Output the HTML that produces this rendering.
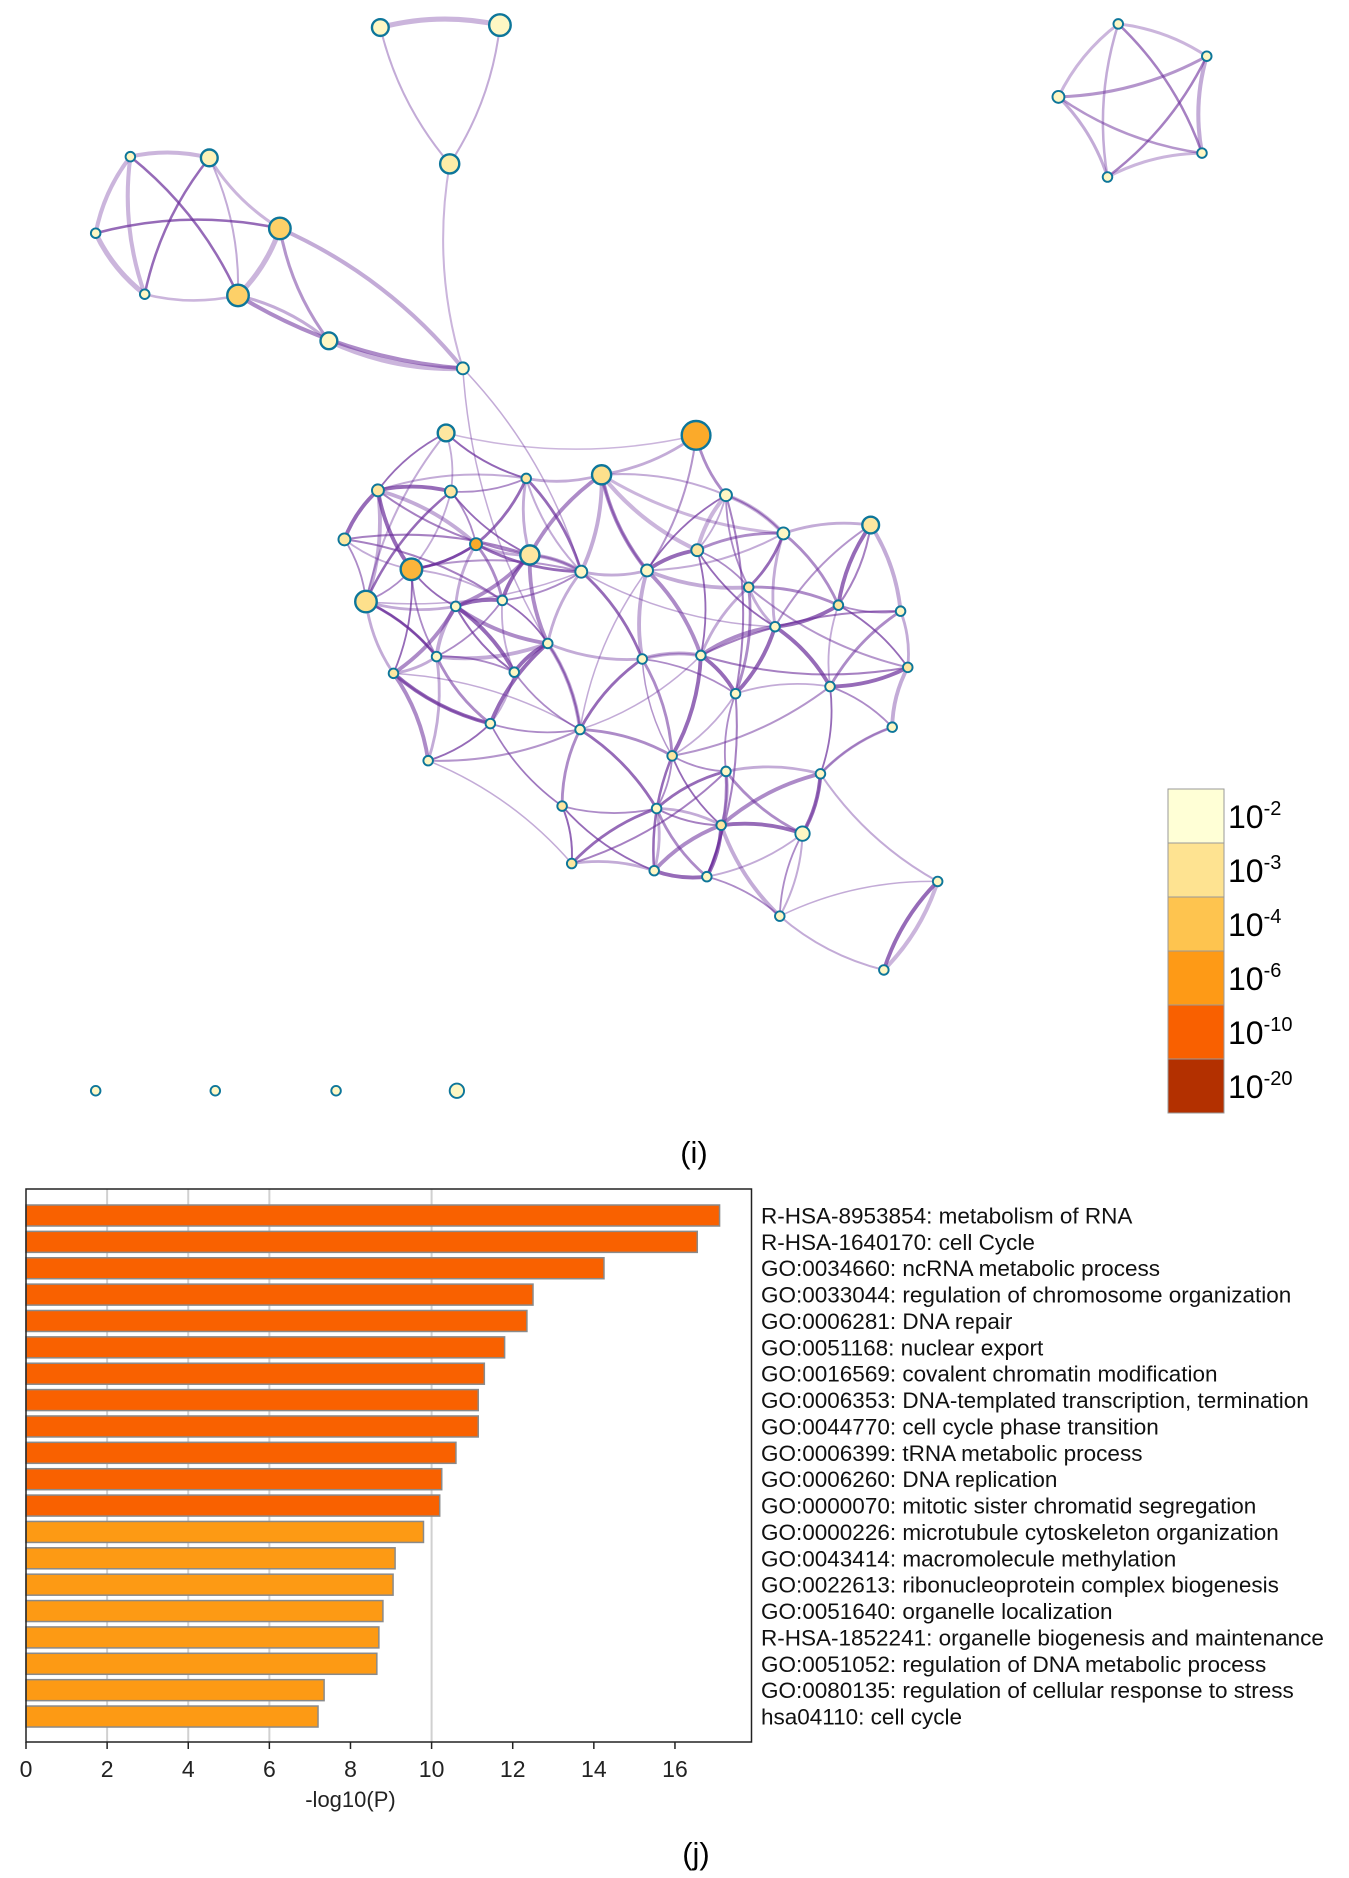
<!DOCTYPE html>
<html><head><meta charset="utf-8">
<style>
html,body{margin:0;padding:0;background:#fff;}
svg{display:block;}
text{font-family:"Liberation Sans",sans-serif;}
</style></head>
<body>
<svg id="fig" width="1349" height="1878" viewBox="0 0 1349 1878" xmlns="http://www.w3.org/2000/svg">
  <g id="net" transform="scale(1.196)">
    <g id="edges"></g>
    <g id="nodes"></g>
  </g>
  <g id="legend"></g>
  <text x="694" y="1163" font-family="Liberation Serif,serif" font-size="31" text-anchor="middle">(i)</text>
  <g id="bars"></g>
  <text x="696" y="1864" font-family="Liberation Serif,serif" font-size="31" text-anchor="middle">(j)</text>
</svg>
<script>
const NS="http://www.w3.org/2000/svg";
// ---- bar chart data ----
const categories=["R-HSA-8953854: metabolism of RNA","R-HSA-1640170: cell Cycle","GO:0034660: ncRNA metabolic process","GO:0033044: regulation of chromosome organization","GO:0006281: DNA repair","GO:0051168: nuclear export","GO:0016569: covalent chromatin modification","GO:0006353: DNA-templated transcription, termination","GO:0044770: cell cycle phase transition","GO:0006399: tRNA metabolic process","GO:0006260: DNA replication","GO:0000070: mitotic sister chromatid segregation","GO:0000226: microtubule cytoskeleton organization","GO:0043414: macromolecule methylation","GO:0022613: ribonucleoprotein complex biogenesis","GO:0051640: organelle localization","R-HSA-1852241: organelle biogenesis and maintenance","GO:0051052: regulation of DNA metabolic process","GO:0080135: regulation of cellular response to stress","hsa04110: cell cycle"];
const logP=[17.1,16.55,14.25,12.5,12.35,11.8,11.3,11.15,11.15,10.6,10.25,10.2,9.8,9.1,9.05,8.8,8.7,8.65,7.35,7.2];
const xTicks=[0,2,4,6,8,10,12,14,16];
const gridTicks=[2,4,6,10];
const legendLabels=[["10","-2"],["10","-3"],["10","-4"],["10","-6"],["10","-10"],["10","-20"]];
const legendColors=["#ffffd6","#fee391","#fec44f","#fe9a16","#f96000","#b33000"];

function el(tag,attrs,parent){const e=document.createElementNS(NS,tag);for(const k in attrs)e.setAttribute(k,attrs[k]);parent.appendChild(e);return e;}

const X0=26,XU=40.56,PT=1189,PB=1742,PR=751.5,B0=1205,BP=26.37,BH=21;
const xs=v=>X0+v*XU;
const ys=i=>B0+i*BP;
const bars=document.getElementById('bars');
el('rect',{x:X0,y:PT,width:PR-X0,height:PB-PT,fill:'#fff',stroke:'none'},bars);
gridTicks.forEach(t=>{const g=el('line',{x1:xs(t),x2:xs(t),y1:PT,y2:PB,stroke:'#d0d0d0','stroke-width':2},bars);

});
logP.forEach((v,i)=>{
  const r=el('rect',{x:X0,y:ys(i),width:xs(v)-X0,height:BH,fill:i<12?'#f96100':'#fd9a14',stroke:'#8a8a8a','stroke-width':1.5},bars);
  
  
  const t=el('text',{x:761,y:ys(i)+BH/2+8,'font-size':22.5,fill:'#111'},bars);
  t.textContent=categories[i];
  
  
});
const bd=el('rect',{x:X0,y:PT,width:PR-X0,height:PB-PT,fill:'none',stroke:'#222','stroke-width':1.5},bars);


xTicks.forEach(t=>{
  el('line',{x1:xs(t),x2:xs(t),y1:PB,y2:PB+7,stroke:'#222','stroke-width':1.5},bars);
  const tl=el('text',{x:xs(t),y:1777,'font-size':23,'text-anchor':'middle',fill:'#222'},bars);
  tl.textContent=t;
  
  
});
const xl=el('text',{x:xs(8),y:1807,'font-size':22,'text-anchor':'middle',fill:'#222'},bars);
xl.textContent='-log10(P)';



// ---- legend ----
const lg=document.getElementById('legend');
legendColors.forEach((c,i)=>{
  const r=el('rect',{x:1168,y:789+i*54,width:56,height:54,fill:c,stroke:'#999','stroke-width':1},lg);
  
  
  const t=el('text',{x:1228,y:789+i*54+39,'font-size':32,fill:'#000'},lg);
  
  
  t.appendChild(document.createTextNode(legendLabels[i][0]));
  const s=el('tspan',{'font-size':20,dy:-13},t);s.textContent=legendLabels[i][1];
});

// ---- network (display coords) ----
const nodes={
T0:[318,23,7,'#fef7c4'],T1:[418,21,9,'#fef7c4'],T2:[376,137,8,'#fdeda8'],
L0:[109,131,4,'#fef7c4'],L1:[175,132,7,'#fdf2b8'],L2:[80,195,4,'#fef7c4'],L3:[234,191,9,'#fdd068'],L4:[121,246,4,'#fef7c4'],L5:[199,247,9,'#fdd068'],L6:[275,285,7,'#fef7c4'],L7:[387,308,5,'#fef7c4'],
P0:[935,20,4,'#fef7c4'],P1:[1009,47,4,'#fef7c4'],P2:[885,81,5,'#fef7c4'],P3:[1005,128,4,'#fef7c4'],P4:[926,148,4,'#fef7c4'],
I0:[80,912,4,'#fef7c4'],I1:[180,912,4,'#fef7c4'],I2:[281,912,4,'#fef7c4'],I3:[382,912,6,'#fef7c4']};
const main=[[373,362,7,'#fde7a0'],[582,364,12,'#fbaa2a'],[316,410,5,'#fde7a0'],[377,411,5,'#fde7a0'],[440,400,4,'#fde7a0'],[503,397,8,'#fde08c'],[607,414,5,'#fef7c4'],[655,446,5,'#fef7c4'],[728,439,7,'#fde7a0'],[288,451,5,'#fde7a0'],[398,455,5,'#fbaa2a'],[443,464,8,'#fde7a0'],[344,476,9,'#fbb43a'],[306,503,9,'#fde08c'],[381,507,4,'#fef7c4'],[420,502,4,'#fef7c4'],[486,478,5,'#fef7c4'],[541,477,5,'#fef7c4'],[583,460,5,'#fde7a0'],[626,491,4,'#fde7a0'],[648,524,4,'#fef7c4'],[701,506,4,'#fde7a0'],[753,511,4,'#fef7c4'],[759,558,4,'#fde7a0'],[694,574,4,'#fef7c4'],[746,608,4,'#fef7c4'],[586,548,4,'#fef7c4'],[615,580,4,'#fef7c4'],[537,551,4,'#fef7c4'],[458,538,4,'#fef7c4'],[430,562,4,'#fef7c4'],[365,549,4,'#fef7c4'],[329,563,4,'#fde7a0'],[410,605,4,'#fef7c4'],[485,610,4,'#fef7c4'],[358,636,4,'#fef7c4'],[562,632,4,'#fde7a0'],[607,645,4,'#fef7c4'],[686,647,4,'#fef7c4'],[470,674,4,'#fde7a0'],[549,676,4,'#fef7c4'],[603,690,4,'#fde7a0'],[671,697,6,'#fef7c4'],[478,722,4,'#fde7a0'],[547,728,4,'#fef7c4'],[591,733,4,'#fef7c4'],[652,766,4,'#fef7c4'],[784,737,4,'#fef7c4'],[739,811,4,'#fef7c4']];
main.forEach((m,i)=>nodes['M'+i]=m);
const edgeList=[["T0","T1",5,.35],["T0","T2",2,.4],["T1","T2",2,.4],["T2","L7",2,.35],
["L0","L1",4,.35],["L0","L4",4,.35],["L0","L5",2.5,.7],["L1","L4",2.5,.7],["L1","L5",2,.4],["L1","L3",3,.35],["L2","L3",2.5,.7],["L2","L4",5,.35],["L2","L0",4,.35],["L4","L5",2.5,.35],["L3","L5",5,.35],["L3","L6",3,.5],["L3","L7",4,.4],["L5","L7",4,.55],["L5","L6",3,.4],["L6","L7",5,.35],
["P0","P1",3,.35],["P0","P2",3,.35],["P0","P3",2.5,.6],["P0","P4",2.5,.4],["P1","P2",3,.5],["P1","P3",4,.4],["P1","P4",2.5,.6],["P2","P3",2.5,.5],["P2","P4",3,.4],["P3","P4",3,.35],
["L7","M16",1.5,.4],["L7","M29",1.5,.4],["M1","M17",2,.5],["M5","M18",4,.35],["M5","M6",2,.4],["M5","M7",3,.35],["M6","M7",4,.35],["M17","M7",2,.4],["M8","M21",2,.6],["M8","M20",2,.5],["M18","M6",4,.35],["M34","M26",1.5,.4],["M28","M26",1.5,.4],["M0","M13",2,.4],["M13","M31",2,.6],["M35","M34",2,.5],["M39","M43",2,.4],["M4","M16",2,.4],["M2","M4",2,.4],["M0","M4",2,.4],["M12","M16",2,.5],["M32","M33",2,.5],["M46","M47",1.5,.4],["M46","M48",2,.4],["M47","M48",4,.35],["M25","M38",2,.4],["M38","M42",2,.4],["M38","M47",2,.4],["M42","M46",2,.4],["M5","M17",2,.5],["M11","M16",2,.5],["M13","M16",1.5,.4],["M9","M15",2,.6],["M2","M11",2,.6],["M29","M34",2,.6],["M16","M20",1.5,.4],["M32","M34",1.5,.4],["M28","M36",1.5,.5],["M24","M36",2,.5],["M36","M44",2.5,.7],["M37","M43",2,.6],["M40","M41",2,.6],["M27","M45",2,.6],["M22","M26",2,.6],["M23","M26",2,.6],["M19","M23",2,.5],["M6","M27",2,.6],["M17","M34",1.5,.4],["M35","M43",1.5,.4],["M33","M39",1.5,.4],["M1","M0",1.5,.35],["M3","M13",2.5,.7],["M10","M12",2.5,.7],["M14","M30",2,.7],["M9","M11",2,.6]];
const auto=[];
for(let a=0;a<main.length;a++)for(let b=a+1;b<main.length;b++){const dx=main[a][0]-main[b][0],dy=main[a][1]-main[b][1];if(Math.hypot(dx,dy)<95)auto.push(["M"+a,"M"+b,((a*7+b*3)%3)+1.8,((a+b)%3)*0.15+0.4]);}
const eg=document.getElementById('edges');
edgeList.concat(auto).forEach(([a,b,w,o],k)=>{
  const A=nodes[a],B=nodes[b];const mx=(A[0]+B[0])/2,my=(A[1]+B[1])/2;const dx=B[0]-A[0],dy=B[1]-A[1];const s=(k%2?1:-1)*0.12;
  const p=el('path',{d:`M${A[0]},${A[1]} Q${mx-dy*s},${my+dx*s} ${B[0]},${B[1]}`,fill:'none',stroke:'#6a2c9a','stroke-width':w*0.85,'stroke-opacity':o,'stroke-linecap':'round'},eg);
  
  
});
const ng=document.getElementById('nodes');
for(const k in nodes){const [x,y,r,f]=nodes[k];
  const c=el('circle',{cx:x,cy:y,r:r,fill:f,stroke:'#0d769a','stroke-width':r>6?2:1.6},ng);
  
  
}
</script>
</body></html>
